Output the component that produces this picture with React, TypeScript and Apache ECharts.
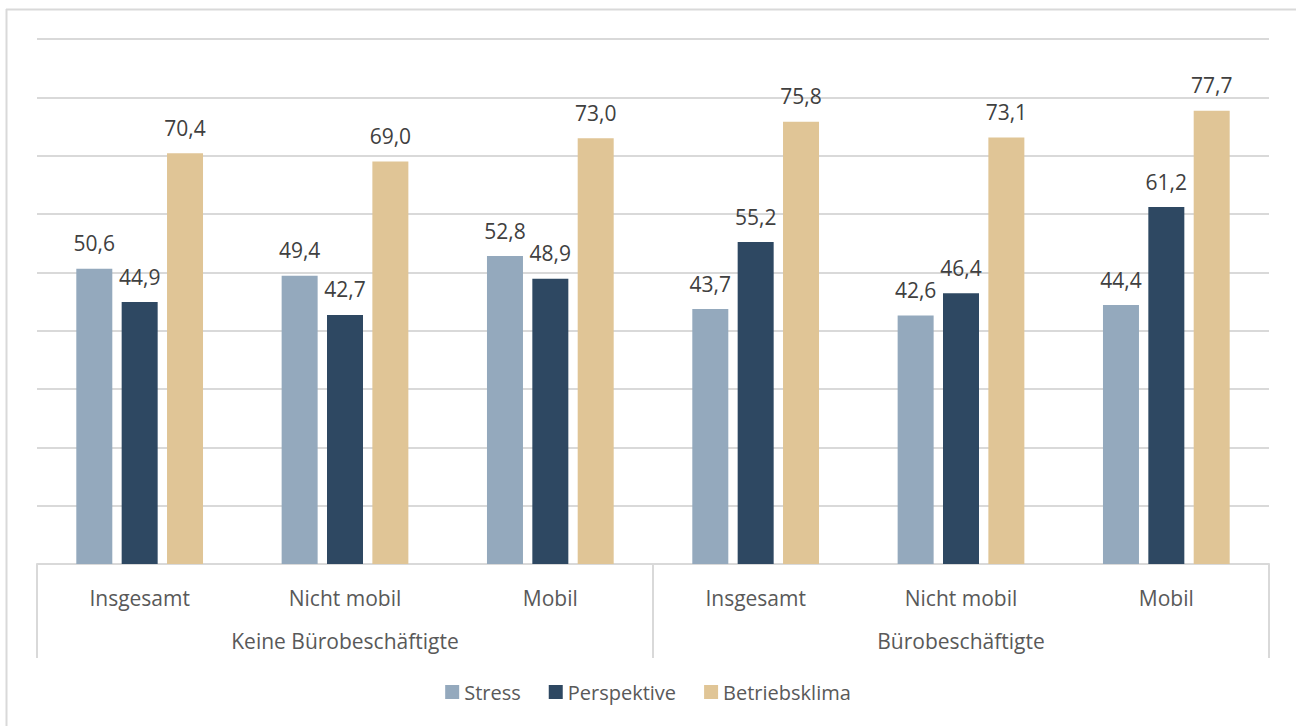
import React, { useEffect, useRef } from "react";
import * as echarts from "echarts";

const categories = ["Insgesamt", "Nicht mobil", "Mobil", "Insgesamt", "Nicht mobil", "Mobil"];
const groups = ["Keine Bürobeschäftigte", "Bürobeschäftigte"];
const stress = [50.6, 49.4, 52.8, 43.7, 42.6, 44.4];
const perspektive = [44.9, 42.7, 48.9, 55.2, 46.4, 61.2];
const betriebsklima = [70.4, 69.0, 73.0, 75.8, 73.1, 77.7];
const seriesNames = ["Stress", "Perspektive", "Betriebsklima"];
const colors = ["#94A9BD", "#2E4862", "#E0C596"];

const FONT = "'Open Sans', sans-serif";

export default function App() {
  const ref = useRef<HTMLDivElement>(null);
  useEffect(() => {
    if (!ref.current) return;
    const chart = echarts.init(ref.current, null, { renderer: "svg" });
    const fmt = (p: any) => Number(p.value).toFixed(1).replace(".", ",");
    const mk = (name: string, data: number[], color: string) => ({
      name,
      type: "bar",
      data,
      barWidth: 36,
      barGap: "26%",
      itemStyle: { color },
      label: {
        show: true,
        position: "top",
        distance: 15,
        formatter: fmt,
        color: "#404040",
        fontSize: 21,
        fontFamily: FONT,
      },
    });
    chart.setOption({
      animation: false,
      backgroundColor: "#ffffff",
      textStyle: { fontFamily: FONT },
      grid: { left: 37, right: 27, top: 39, bottom: 162, containLabel: false },
      legend: {
        top: 677,
        left: "center",
        icon: "rect",
        itemWidth: 14,
        itemHeight: 14,
        itemGap: 28,
        data: seriesNames,
        textStyle: { fontSize: 20, color: "#595959", fontFamily: FONT },
      },
      xAxis: [
        {
          type: "category",
          data: categories,
          position: "bottom",
          axisLine: { show: true, lineStyle: { color: "#D9D9D9", width: 2 } },
          axisTick: { show: false },
          axisLabel: { margin: 23, fontSize: 21, color: "#595959", fontFamily: FONT },
        },
        {
          type: "category",
          data: groups,
          position: "bottom",
          axisLine: { show: false },
          axisTick: { show: true, length: 94, lineStyle: { color: "#D9D9D9", width: 2 } },
          axisLabel: { margin: 66, fontSize: 21, color: "#595959", fontFamily: FONT },
        },
      ],
      yAxis: {
        type: "value",
        min: 0,
        max: 90,
        interval: 10,
        axisLabel: { show: false },
        axisLine: { show: false },
        axisTick: { show: false },
        splitLine: { show: true, lineStyle: { color: "#D9D9D9", width: 2 } },
      },
      graphic: [
        { type: "line", shape: { x1: 6, y1: 9.5, x2: 1296, y2: 9.5 }, style: { stroke: "#D9D9D9", lineWidth: 2 } },
        { type: "line", shape: { x1: 6.5, y1: 9, x2: 6.5, y2: 726 }, style: { stroke: "#D9D9D9", lineWidth: 2 } },
      ],
      series: [
        mk(seriesNames[0], stress, colors[0]),
        mk(seriesNames[1], perspektive, colors[1]),
        mk(seriesNames[2], betriebsklima, colors[2]),
      ],
    });
    return () => chart.dispose();
  }, []);
  return (
    <div
      ref={ref}
      style={{ position: "fixed", left: 0, top: 0, width: 1296, height: 726, background: "#fff" }}
    />
  );
}
